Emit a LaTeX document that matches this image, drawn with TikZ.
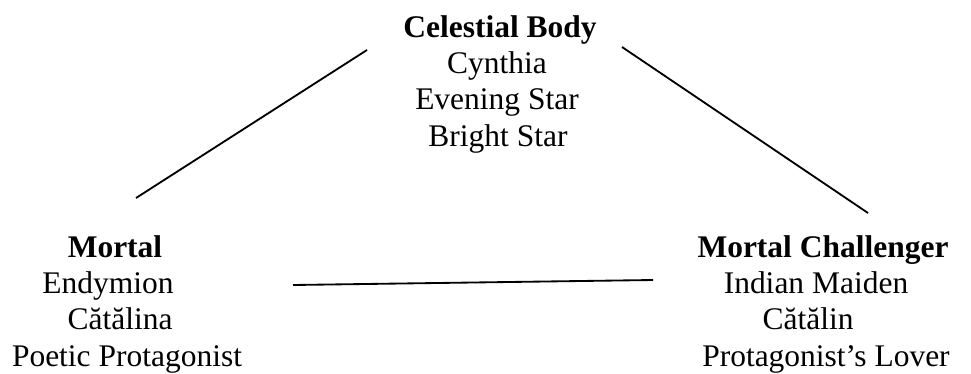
\documentclass[tikz,border=0pt]{standalone}
\usepackage{fontspec}
\setmainfont{Liberation Serif}
\usepackage{tikz}

\begin{document}
\begin{tikzpicture}[x=0.01339cm,y=-0.01339cm,
    edge/.style={line width=0.7pt},
    word/.style={anchor=base,inner sep=0pt,font=\fontsize{12}{14}\selectfont},
    head/.style={word,font=\fontsize{12}{14}\selectfont\bfseries}]
  \useasboundingbox (0,0) rectangle (971,373);

  % celestial body
  \node[head] (celestial) at (500,37) {Celestial Body};
  \node[word] (cynthia) at (497,73) {Cynthia};
  \node[word] (evening) at (497,109.5) {Evening Star};
  \node[word] (bright) at (498,146) {Bright Star};

  % mortal
  \node[head] (mortal) at (115,257) {Mortal};
  \node[word] (endymion) at (108,293) {Endymion};
  \node[word] (catalina) at (120,329.5) {Cătălina};
  \node[word] (poetic) at (127,366) {Poetic Protagonist};

  % mortal challenger
  \node[head] (challenger) at (823,257) {Mortal Challenger};
  \node[word] (maiden) at (816,293) {Indian Maiden};
  \node[word] (catalin) at (808,329.5) {Cătălin};
  \node[word] (lover) at (826,366) {Protagonist’s Lover};

  \coordinate (lefttop) at (367,50);
  \coordinate (leftbot) at (136,198);
  \coordinate (righttop) at (622,47);
  \coordinate (rightbot) at (868,213);
  \coordinate (midleft) at (293,285);
  \coordinate (midright) at (653,280);

  \draw[edge] (leftbot) -- (lefttop);
  \draw[edge] (righttop) -- (rightbot);
  \draw[edge] (midleft) -- (midright);

\end{tikzpicture}
\end{document}
